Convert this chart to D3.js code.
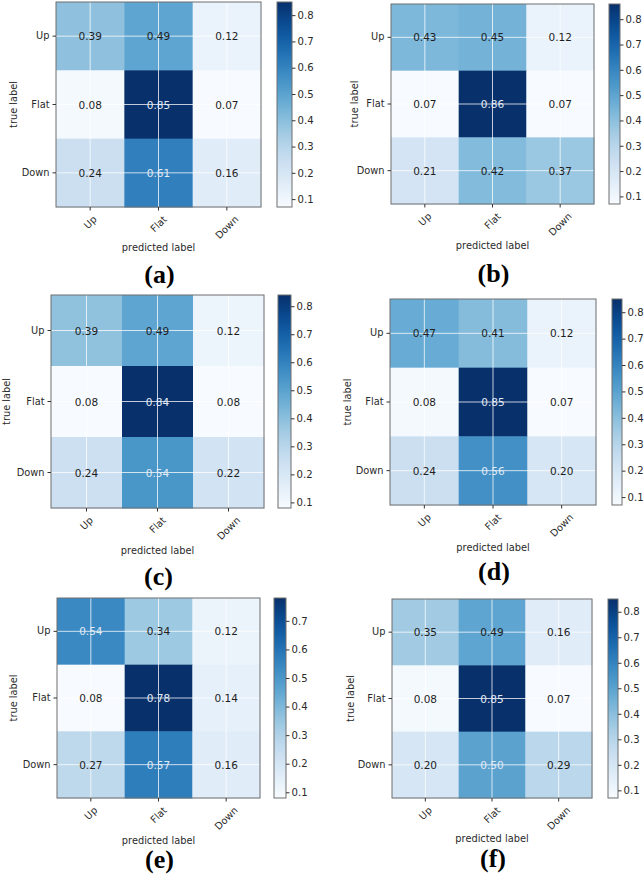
<!DOCTYPE html>
<html>
<head>
<meta charset="utf-8">
<script src="https://cdn.jsdelivr.net/npm/d3@7"></script>
<style>
  html, body { margin: 0; padding: 0; background: #fff; }
  svg { display: block; }
</style>
</head>
<body>
<svg id="chart" width="644" height="875"></svg>
<script>
// ---------- DATA ----------
const classLabels = ["Up", "Flat", "Down"];
const panelTitles = ["(a)", "(b)", "(c)", "(d)", "(e)", "(f)"];
const matA = [[0.39, 0.49, 0.12], [0.08, 0.85, 0.07], [0.24, 0.61, 0.16]];
const matB = [[0.43, 0.45, 0.12], [0.07, 0.86, 0.07], [0.21, 0.42, 0.37]];
const matC = [[0.39, 0.49, 0.12], [0.08, 0.84, 0.08], [0.24, 0.54, 0.22]];
const matD = [[0.47, 0.41, 0.12], [0.08, 0.85, 0.07], [0.24, 0.56, 0.20]];
const matE = [[0.54, 0.34, 0.12], [0.08, 0.78, 0.14], [0.27, 0.57, 0.16]];
const matF = [[0.35, 0.49, 0.16], [0.08, 0.85, 0.07], [0.20, 0.50, 0.29]];
const matrices = [matA, matB, matC, matD, matE, matF];
const cbarTicks8 = [0.1, 0.2, 0.3, 0.4, 0.5, 0.6, 0.7, 0.8];
const cbarTicks7 = [0.1, 0.2, 0.3, 0.4, 0.5, 0.6, 0.7];
const panelCbarTicks = [cbarTicks8, cbarTicks8, cbarTicks8, cbarTicks8, cbarTicks7, cbarTicks8];
const xAxisTitle = "predicted label";
const yAxisTitle = "true label";

// ---------- LAYOUT ----------
const layouts = [
  {mx: 56,  my: 2,   mw: 205, mh: 205, cbx: 277, cbw: 15, ylabX: 13,  xlabY: 247, titleY: 274},
  {mx: 391, my: 4,   mw: 203, mh: 200, cbx: 609, cbw: 11, ylabX: 354, xlabY: 245, titleY: 273},
  {mx: 51,  my: 295, mw: 213, mh: 213, cbx: 278, cbw: 13, ylabX: 6,   xlabY: 550, titleY: 576},
  {mx: 390, my: 299, mw: 206, mh: 206, cbx: 612, cbw: 10, ylabX: 347, xlabY: 547, titleY: 571},
  {mx: 57,  my: 598, mw: 203, mh: 200, cbx: 274, cbw: 12, ylabX: 13,  xlabY: 840, titleY: 859},
  {mx: 392, my: 599, mw: 200, mh: 199, cbx: 608, cbw: 10, ylabX: 350, xlabY: 838, titleY: 858}
];

const FS = 9.8;
const SANS = '"DejaVu Sans", sans-serif';
const SERIF = '"Liberation Serif", "Times New Roman", serif';
const textColor = "#2a2a2a";
const frameColor = "#6e6e6e";
const svg = d3.select("#chart");
const defs = svg.append("defs");

function styleText(sel, size) {
  sel.style("font-family", SANS).style("font-size", size + "px").attr("fill", textColor);
}

matrices.forEach((mat, pi) => {
  const L = layouts[pi];
  const flat = mat.flat();
  const vmin = d3.min(flat), vmax = d3.max(flat);
  const color = d3.scaleSequential(d3.interpolateBlues).domain([vmin, vmax]);

  const g = svg.append("g");
  const x = d3.scaleBand().domain(classLabels).range([L.mx, L.mx + L.mw]);
  const y = d3.scaleBand().domain(classLabels).range([L.my, L.my + L.mh]);

  // cells
  const cells = [];
  mat.forEach((row, ri) => row.forEach((v, ci) => cells.push({r: classLabels[ri], c: classLabels[ci], v})));
  g.selectAll("rect.cell").data(cells).join("rect")
    .attr("class", "cell")
    .attr("x", d => x(d.c)).attr("y", d => y(d.r))
    .attr("width", x.bandwidth() + 0.5).attr("height", y.bandwidth() + 0.5)
    .attr("fill", d => color(d.v));

  // grid lines (white, through tick centers)
  classLabels.forEach(lbl => {
    const cx = x(lbl) + x.bandwidth() / 2;
    const cy = y(lbl) + y.bandwidth() / 2;
    g.append("line").attr("x1", cx).attr("x2", cx).attr("y1", L.my).attr("y2", L.my + L.mh)
      .attr("stroke", "#fff").attr("stroke-opacity", 0.75).attr("stroke-width", 1);
    g.append("line").attr("x1", L.mx).attr("x2", L.mx + L.mw).attr("y1", cy).attr("y2", cy)
      .attr("stroke", "#fff").attr("stroke-opacity", 0.75).attr("stroke-width", 1);
  });

  // values
  g.selectAll("text.val").data(cells).join("text")
    .attr("class", "val")
    .attr("x", d => x(d.c) + x.bandwidth() / 2)
    .attr("y", d => y(d.r) + y.bandwidth() / 2)
    .attr("text-anchor", "middle").attr("dominant-baseline", "central")
    .style("font-family", SANS).style("font-size", (FS + 0.7) + "px")
    .attr("fill", d => d.v >= 0.495 ? "#e3ebf5" : "#1e1e1e")
    .text(d => d.v.toFixed(2));

  // frame
  g.append("rect").attr("x", L.mx).attr("y", L.my).attr("width", L.mw).attr("height", L.mh)
    .attr("fill", "none").attr("stroke", frameColor).attr("stroke-width", 1);

  // y axis
  const yAx = g.append("g").attr("transform", `translate(${L.mx},0)`)
    .call(d3.axisLeft(y).tickSize(3.5).tickPadding(3));
  yAx.select(".domain").remove();
  yAx.selectAll("line").attr("stroke", "#333");
  styleText(yAx.selectAll("text"), FS);

  // x axis
  const xAx = g.append("g").attr("transform", `translate(0,${L.my + L.mh})`)
    .call(d3.axisBottom(x).tickSize(3.5).tickPadding(3));
  xAx.select(".domain").remove();
  xAx.selectAll("line").attr("stroke", "#333");
  styleText(xAx.selectAll("text"), FS);
  xAx.selectAll("text")
    .attr("y", null).attr("dy", null)
    .attr("text-anchor", "middle").attr("dominant-baseline", "central")
    .each(function() {
      const w = this.getComputedTextLength();
      const h = FS * 1.15;
      const side = (w + h) / Math.SQRT2;
      d3.select(this).attr("transform", `translate(0,${6.5 + side / 2}) rotate(-45)`);
    });

  // axis titles
  styleText(g.append("text").attr("x", L.mx + L.mw / 2).attr("y", L.xlabY)
    .attr("text-anchor", "middle").attr("dominant-baseline", "central")
    .text(xAxisTitle), FS);
  styleText(g.append("text")
    .attr("transform", `translate(${L.ylabX},${L.my + L.mh / 2}) rotate(-90)`)
    .attr("text-anchor", "middle").attr("dominant-baseline", "central")
    .text(yAxisTitle), FS);

  // colorbar
  const cb = d3.scaleLinear().domain([vmin, vmax]).range([L.my + L.mh, L.my]);
  const gid = "cbgrad" + pi;
  const grad = defs.append("linearGradient").attr("id", gid)
    .attr("x1", 0).attr("y1", 1).attr("x2", 0).attr("y2", 0);
  d3.range(0, 1.0001, 0.05).forEach(t => {
    grad.append("stop").attr("offset", t).attr("stop-color", color(vmin + t * (vmax - vmin)));
  });
  g.append("rect").attr("x", L.cbx).attr("y", L.my).attr("width", L.cbw).attr("height", L.mh)
    .attr("fill", `url(#${gid})`).attr("stroke", frameColor).attr("stroke-width", 1);
  const cbAx = g.append("g").attr("transform", `translate(${L.cbx + L.cbw},0)`)
    .call(d3.axisRight(cb).tickValues(panelCbarTicks[pi]).tickFormat(d3.format(".1f")).tickSize(3.5).tickPadding(2));
  cbAx.select(".domain").remove();
  cbAx.selectAll("line").attr("stroke", "#333");
  styleText(cbAx.selectAll("text"), FS + 0.3);

  // panel title
  g.append("text").attr("x", L.mx + L.mw / 2 + 1).attr("y", L.titleY)
    .attr("text-anchor", "middle").attr("dominant-baseline", "central")
    .style("font-family", SERIF).style("font-weight", "bold").style("font-size", "26px")
    .attr("fill", "#000")
    .text(panelTitles[pi]);
});
</script>
</body>
</html>
